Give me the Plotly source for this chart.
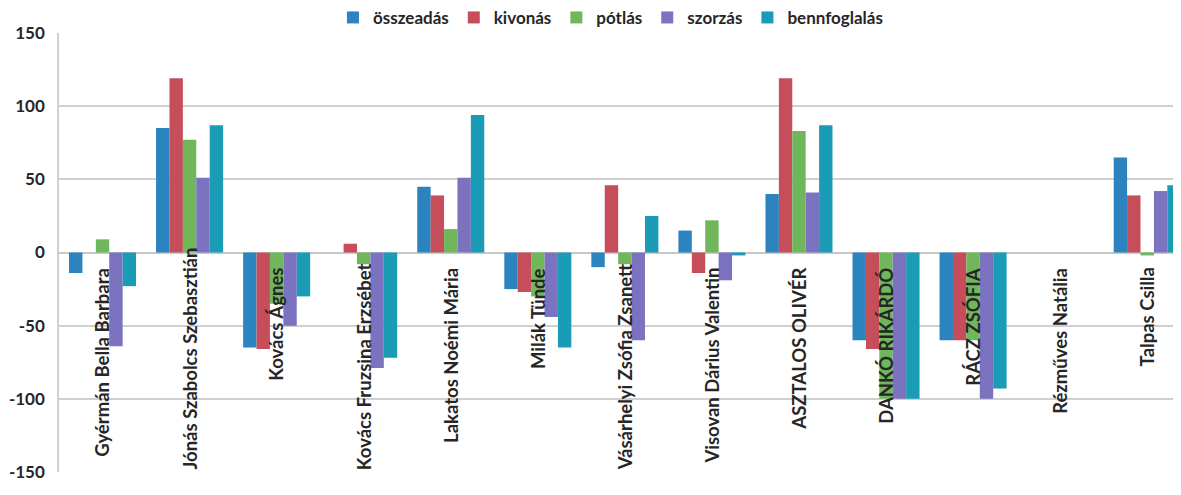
import plotly.graph_objects as go

categories = ["Gyérmán Bella Barbara", "Jónás Szabolcs Szebasztián", "Kovács Ágnes",
              "Kovács Fruzsina Erzsébet", "Lakatos Noémi Mária", "Milák Tünde",
              "Vásárhelyi Zsófia Zsanett", "Visovan Dárius Valentin", "ASZTALOS OLIVÉR",
              "DANKÓ RIKÁRDÓ", "RÁCZ ZSÓFIA", "Rézműves Natália", "Talpas Csilla"]
osszeadas = [-14, 85, -65, 0, 45, -25, -10, 15, 40, -60, -60, 0, 65]
kivonas = [0, 119, -66, 6, 39, -27, 46, -14, 119, -66, -60, 0, 39]
potlas = [9, 77, -35, -8, 16, -30, -8, 22, 83, -100, -60, 0, -2]
szorzas = [-64, 51, -50, -79, 51, -44, -60, -19, 41, -100, -100, 0, 42]
bennfoglalas = [-23, 87, -30, -72, 94, -65, 25, -2, 87, -100, -93, 0, 46]

series_names = ["összeadás", "kivonás", "pótlás", "szorzás", "bennfoglalás"]
series_values = [osszeadas, kivonas, potlas, szorzas, bennfoglalas]
colors = ["#2B83C0", "#C64E5A", "#70B75C", "#7B72C0", "#1A9CB6"]

long_labels = {"Jónás Szabolcs Szebasztián", "Kovács Fruzsina Erzsébet", "Vásárhelyi Zsófia Zsanett"}

fig = go.Figure()
for name, vals, col in zip(series_names, series_values, colors):
    fig.add_trace(go.Bar(x=list(range(len(categories))), y=vals, name=name,
                         marker=dict(color=col, line=dict(width=0))))

label_font = dict(family="Lato", size=18.5, color="#262626", weight="bold")
annotations = []
for i, c in enumerate(categories):
    if c in long_labels:
        annotations.append(dict(x=i, y=-150, xref="x", yref="y", text=c, textangle=-90,
                                showarrow=False, xanchor="center", yanchor="bottom",
                                font=label_font))
    else:
        annotations.append(dict(x=i, y=-9, xref="x", yref="y", text=c, textangle=-90,
                                showarrow=False, xanchor="center", yanchor="top",
                                font=label_font))

fig.update_layout(
    width=1181, height=495,
    margin=dict(l=51, r=0, t=25, b=31, autoexpand=False),
    paper_bgcolor="white", plot_bgcolor="white",
    barmode="group", bargap=0.23, bargroupgap=0,
    font=dict(family="Lato", color="#262626"),
    legend=dict(orientation="h", x=0.488, xanchor="center", yref="container", y=0.98, yanchor="middle",
                font=dict(family="Lato", size=17, color="#262626", weight="bold"),
                itemwidth=30, traceorder="normal", bgcolor="rgba(0,0,0,0)"),
    annotations=annotations,
    xaxis=dict(range=[-0.5, 12.48], showticklabels=False, showgrid=False, zeroline=False,
               showline=False, fixedrange=True, automargin=False),
    yaxis=dict(range=[-150, 150], tickvals=[-150, -100, -50, 0, 50, 100, 150],
               ticktext=["-150", "-100", "-50", "0", "50", "100", "150"],
               showgrid=True, gridcolor="#d0d0d0", gridwidth=1.5,
               zeroline=True, zerolinecolor="#c8c8c8", zerolinewidth=1.5,
               showline=True, linecolor="#d0d0d0", linewidth=1.5,
               ticks="", ticklabelstandoff=9, automargin=False,
               tickfont=dict(family="Lato", size=17, color="#262626", weight="bold")),
)

fig.write_html("out.html")
